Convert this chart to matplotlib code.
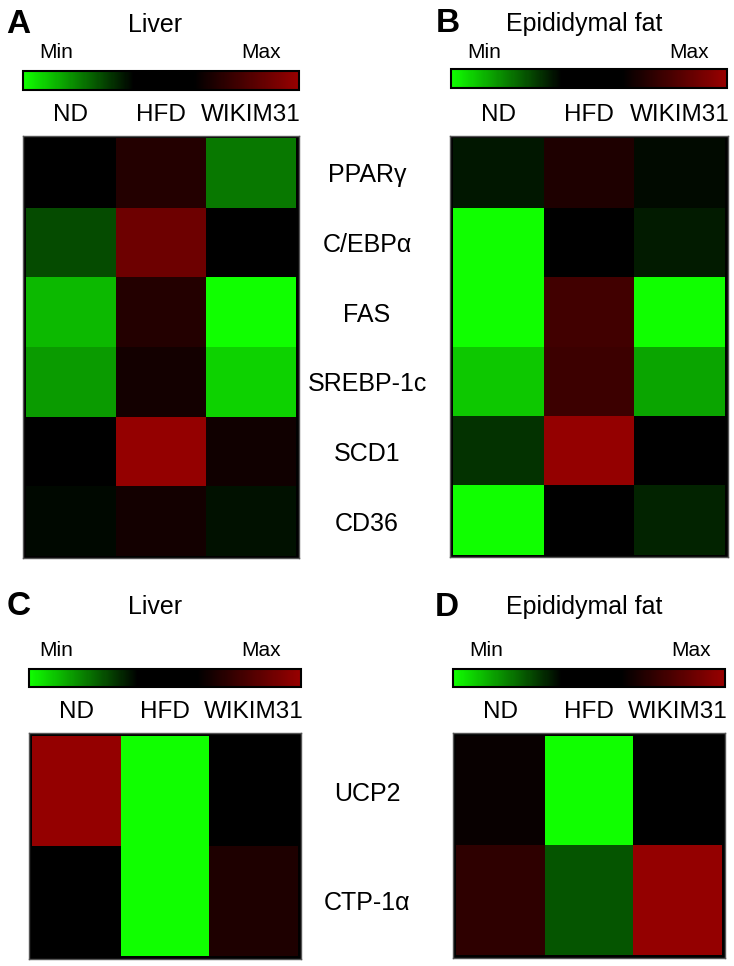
import numpy as np
import matplotlib
matplotlib.use('Agg')
import matplotlib.pyplot as plt
from matplotlib.colors import LinearSegmentedColormap, Normalize
from matplotlib.cm import ScalarMappable

plt.rcParams['font.family'] = ['Liberation Sans', 'DejaVu Sans']

groups = ['ND', 'HFD', 'WIKIM31']
lipo_genes = ['PPARγ', 'C/EBPα', 'FAS', 'SREBP-1c', 'SCD1', 'CD36']
oxid_genes = ['UCP2', 'CTP-1α']

# relative expression per row, 0 = min (green) ... 1 = max (red)
liver_lipo = [[0.50, 0.707, 0.212],
              [0.282, 0.888, 0.50],
              [0.11, 0.707, 0.0],
              [0.157, 0.665, 0.071],
              [0.50, 0.985, 0.657],
              [0.387, 0.665, 0.372]]
fat_lipo = [[0.365, 0.695, 0.384],
            [0.0, 0.50, 0.356],
            [0.0, 0.781, 0.0],
            [0.086, 0.769, 0.141],
            [0.322, 0.985, 0.50],
            [0.0, 0.50, 0.345]]
liver_oxid = [[0.985, 0.0, 0.50],
              [0.50, 0.0, 0.695]]
fat_oxid = [[0.64, 0.0, 0.50],
            [0.732, 0.267, 0.985]]

cmap = LinearSegmentedColormap.from_list(
    'gbr', [(0.0, '#10ff00'), (0.4, '#000000'), (0.62, '#000000'), (1.0, '#990000')])
norm = Normalize(0, 1)

W, H = 734, 966
fig = plt.figure(figsize=(W / 100, H / 100), dpi=100)


def px_axes(x0, y0, x1, y1):
    return fig.add_axes([x0 / W, 1 - y1 / H, (x1 - x0) / W, (y1 - y0) / H])


def px_text(x, y, s, **kw):
    fig.text(x / W, 1 - y / H, s, va='baseline', **kw)


def heatmap(box, vals, genes=None, gene_pad=0):
    ax = px_axes(*box)
    data = np.array(vals)
    m = 0.03
    ax.set_facecolor('black')
    ax.pcolormesh(data, cmap=cmap, norm=norm, antialiased=False)
    ax.set_xlim(-m, data.shape[1] + m)
    ax.set_ylim(data.shape[0] + m, -m)
    ax.xaxis.tick_top()
    ax.set_xticks(np.arange(data.shape[1]) + 0.5)
    ax.set_xticklabels(groups, fontsize=17.5)
    ax.tick_params(axis='x', length=0, pad=7)
    if genes:
        ax.yaxis.tick_right()
        ax.set_yticks(np.arange(data.shape[0]) + 0.5)
        ax.set_yticklabels(genes, fontsize=18, ha='center')
        ax.tick_params(axis='y', length=0, pad=gene_pad)
    else:
        ax.set_yticks([])
    for sp in ax.spines.values():
        sp.set_color('#555555')
        sp.set_linewidth(1)
    return ax


def colorbar(box):
    cax = px_axes(*box)
    cb = fig.colorbar(ScalarMappable(norm=norm, cmap=cmap), cax=cax, orientation='horizontal')
    cb.set_ticks([])
    cb.outline.set_linewidth(1.5)
    return cb


panels = [
    dict(letter='A', title='Liver', vals=liver_lipo, genes=lipo_genes, pad=49,
         heat=(23, 136, 299, 558), cbar=(23, 71, 299, 90),
         let=(6, 33), tit=(155, 32), mn=(56, 58), mx=(261, 58)),
    dict(letter='B', title='Epididymal fat', vals=fat_lipo, genes=None, pad=0,
         heat=(450, 136, 728, 557), cbar=(451, 69, 727, 88),
         let=(436, 32), tit=(584, 31), mn=(484, 58), mx=(689, 58)),
    dict(letter='C', title='Liver', vals=liver_oxid, genes=oxid_genes, pad=47.5,
         heat=(29, 733, 301, 959), cbar=(29, 669, 301, 687),
         let=(7, 615), tit=(155, 614), mn=(56, 656), mx=(261, 656)),
    dict(letter='D', title='Epididymal fat', vals=fat_oxid, genes=None, pad=0,
         heat=(453, 733, 725, 958), cbar=(453, 669, 725, 687),
         let=(435, 616), tit=(584, 614), mn=(486, 656), mx=(691, 656)),
]

for p in panels:
    heatmap(p['heat'], p['vals'], p['genes'], p['pad'])
    colorbar(p['cbar'])
    px_text(*p['let'], p['letter'], fontsize=24, fontweight='bold', ha='left')
    px_text(*p['tit'], p['title'], fontsize=18, ha='center')
    px_text(*p['mn'], 'Min', fontsize=15, ha='center')
    px_text(*p['mx'], 'Max', fontsize=15, ha='center')

fig.savefig('out.png', dpi=100)
